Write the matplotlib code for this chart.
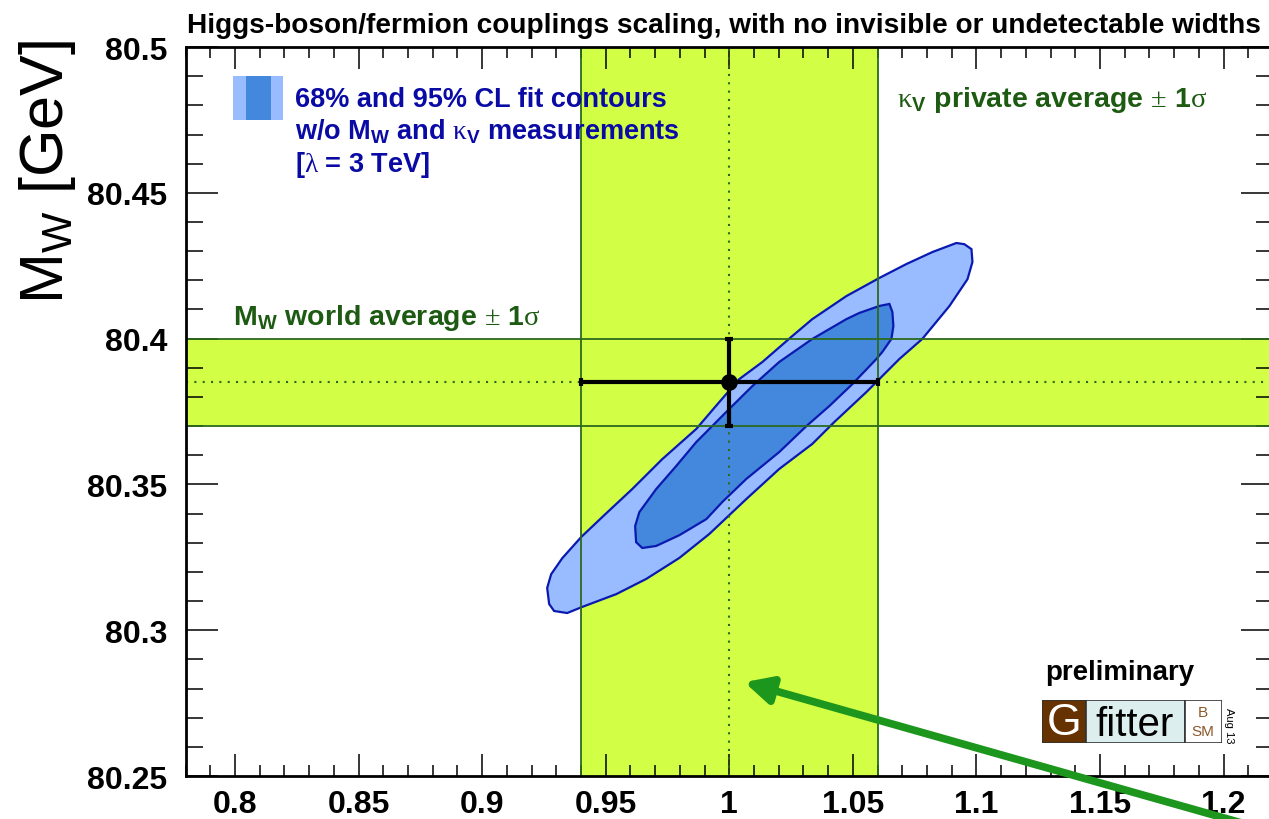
import numpy as np
import matplotlib
matplotlib.use("Agg")
import matplotlib.pyplot as plt
from matplotlib.patches import Rectangle
from matplotlib.ticker import MultipleLocator, FuncFormatter

plt.rcParams['font.family'] = ['Liberation Sans', 'DejaVu Sans']
plt.rcParams['mathtext.fontset'] = 'custom'
plt.rcParams['mathtext.rm'] = 'Liberation Serif'
plt.rcParams['mathtext.bf'] = 'Liberation Sans:bold'
plt.rcParams['mathtext.sf'] = 'Liberation Sans'
plt.rcParams['mathtext.it'] = 'Liberation Sans:italic'

# measurements: kappa_V average and W mass world average
kv_mean, kv_err = 1.0, 0.06
mw_mean, mw_err = 80.385, 0.015

# 95% CL fit contour (kappa_V, M_W)
c95_kv = [1.0919, 1.0822, 1.0717, 1.0607, 1.0474, 1.0336, 1.0255, 1.0134, 1.0040,
          0.9960, 0.9866, 0.9729, 0.9607, 0.9502, 0.9401, 0.9324, 0.9279, 0.9263,
          0.9271, 0.9291, 0.9344, 0.9405, 0.9543, 0.9664, 0.9798, 0.9919, 1.0069,
          1.0202, 1.0336, 1.0425, 1.0555, 1.0688, 1.0781, 1.0891, 1.0964, 1.0984,
          1.0980, 1.0951]
c95_mw = [80.4328, 80.4297, 80.4256, 80.4208, 80.4146, 80.4067, 80.4009, 80.3920, 80.3861,
          80.3783, 80.3690, 80.3587, 80.3484, 80.3401, 80.3320, 80.3247, 80.3192, 80.3145,
          80.3090, 80.3066, 80.3059, 80.3080, 80.3124, 80.3176, 80.3248, 80.3330, 80.3450,
          80.3553, 80.3639, 80.3714, 80.3817, 80.3930, 80.3999, 80.4112, 80.4204, 80.4263,
          80.4307, 80.4324]

# 68% CL fit contour
c68_kv = [1.0648, 1.0607, 1.0526, 1.0474, 1.0336, 1.0202, 1.0093, 1.0000, 0.9866,
          0.9785, 0.9704, 0.9636, 0.9619, 0.9623, 0.9648, 0.9704, 0.9798, 0.9907,
          0.9972, 1.0069, 1.0202, 1.0312, 1.0405, 1.0498, 1.0595, 1.0619, 1.0656,
          1.0664, 1.0660]
c68_mw = [80.4119, 80.4112, 80.4088, 80.4067, 80.3999, 80.3920, 80.3837, 80.3759, 80.3645,
          80.3563, 80.3484, 80.3405, 80.3357, 80.3302, 80.3282, 80.3289, 80.3326, 80.3381,
          80.3440, 80.3519, 80.3611, 80.3700, 80.3769, 80.3844, 80.3930, 80.3954, 80.3999,
          80.4043, 80.4091]

band_col = '#d2ff46'
band_edge = '#2b6a1c'
text_green = '#1d5a12'
light_blue = '#99bbff'
dark_blue = '#4488dd'
line_blue = '#0a1ab0'
legend_blue = '#0a0aa5'

fig = plt.figure(figsize=(12.69, 8.2), dpi=100)
ax = fig.add_axes([0.1463, 0.0524, 0.8568, 0.889])
ax.set_xlim(0.78, 1.22)
ax.set_ylim(80.25, 80.5)

# 1 sigma bands
ax.axvspan(kv_mean - kv_err, kv_mean + kv_err, color=band_col, lw=0, zorder=1)
ax.axhspan(mw_mean - mw_err, mw_mean + mw_err, color=band_col, lw=0, zorder=1)

# fit contours
ax.fill(c95_kv, c95_mw, facecolor=light_blue, edgecolor=line_blue, lw=1.6, zorder=2)
ax.fill(c68_kv, c68_mw, facecolor=dark_blue, edgecolor=line_blue, lw=1.6, zorder=2)

for v in (kv_mean - kv_err, kv_mean + kv_err):
    ax.axvline(v, color=band_edge, lw=1.3, zorder=3)
for v in (mw_mean - mw_err, mw_mean + mw_err):
    ax.axhline(v, color=band_edge, lw=1.3, zorder=3)
ax.axvline(kv_mean, color=band_edge, lw=1.5, ls=(0, (1, 3)), zorder=3)
ax.axhline(mw_mean, color=band_edge, lw=1.5, ls=(0, (1, 3)), zorder=3)

ax.errorbar(kv_mean, mw_mean, xerr=kv_err, yerr=mw_err, fmt='o', color='black',
            ms=11, elinewidth=3, capsize=3, capthick=3, zorder=4)

# axes styling
ax.xaxis.set_major_locator(MultipleLocator(0.05))
ax.xaxis.set_minor_locator(MultipleLocator(0.01))
ax.yaxis.set_major_locator(MultipleLocator(0.05))
ax.yaxis.set_minor_locator(MultipleLocator(0.01))
fmt = FuncFormatter(lambda v, p: '%g' % round(v, 3))
ax.xaxis.set_major_formatter(fmt)
ax.yaxis.set_major_formatter(fmt)
ax.tick_params(which='both', direction='in', top=True, right=True, width=1.1,
               labelsize=23)
ax.tick_params(axis='x', which='major', length=16, pad=9)
ax.tick_params(axis='x', which='minor', length=8)
ax.tick_params(axis='y', which='major', length=23, pad=13)
ax.tick_params(axis='y', which='minor', length=12)
for lab in ax.get_xticklabels() + ax.get_yticklabels():
    lab.set_fontweight('bold')
for s in ax.spines.values():
    s.set_linewidth(2)
    s.set_zorder(5)

# legend
ax.add_patch(Rectangle((0.0435, 0.900), 0.046, 0.0604, transform=ax.transAxes,
                       facecolor=light_blue, lw=0, zorder=5))
ax.add_patch(Rectangle((0.0555, 0.900), 0.023, 0.0604, transform=ax.transAxes,
                       facecolor=dark_blue, lw=0, zorder=5))
leg_kw = dict(transform=ax.transAxes, color=legend_blue, fontsize=19.5,
              fontweight='bold', va='baseline', zorder=6)
ax.text(0.1005, 0.919, '68% and 95% CL fit contours', **leg_kw)
ax.text(0.1005, 0.875, r'w/o M$_\mathbf{W}$ and $\mathrm{κ}_\mathbf{V}$ measurements', **leg_kw)
ax.text(0.1005, 0.830, r'[$\mathrm{λ}$ = 3 TeV]', **leg_kw)

lab_kw = dict(transform=ax.transAxes, color=text_green, fontsize=20.5,
              fontweight='bold', va='baseline', zorder=6)
ax.text(0.0435, 0.620, r'M$_\mathbf{W}$ world average $\mathrm{±}$ 1$\mathrm{σ}$', **lab_kw)
ax.text(0.654, 0.919, r'$\mathrm{κ}_\mathbf{V}$ private average $\mathrm{±}$ 1$\mathrm{σ}$', **lab_kw)

fig.text(0.1474, 0.9598, 'Higgs-boson/fermion couplings scaling, with no invisible or undetectable widths',
         fontsize=20.2, fontweight='bold', va='baseline')
fig.text(47 / 1269, 1 - 40 / 820, r'M$_\mathsf{W}$ [GeV]', fontsize=44, rotation=90,
         ha='center', va='top')

# arrow coming in from the lower right
ax.annotate('', xy=(1.0061, 80.2822), xycoords='data',
            xytext=(1263, -10), textcoords='figure pixels',
            arrowprops=dict(arrowstyle='-|>', lw=5.5, color='#1c961c', mutation_scale=40,
                            shrinkA=0, shrinkB=0),
            annotation_clip=False, zorder=7)

# preliminary / Gfitter logo
fig.text(1045 / 1269, 1 - 680 / 820, 'preliminary', fontsize=20, fontweight='bold',
         va='baseline')
lax = fig.add_axes([1042 / 1269, 1 - 744 / 820, 180 / 1269, 43 / 820])
lax.set_xlim(0, 180)
lax.set_ylim(0, 43)
lax.axis('off')
lax.add_patch(Rectangle((0, 0), 44, 43, facecolor='#663300', edgecolor='#333333', lw=1.2))
lax.add_patch(Rectangle((44, 0), 99, 43, facecolor='#ddeeee', edgecolor='#333333', lw=1.2))
lax.add_patch(Rectangle((143, 0), 37, 43, facecolor='white', edgecolor='#333333', lw=1.2))
lax.text(22, 20, 'G', color='white', fontsize=32, ha='center', va='center')
lax.text(93, 19, 'fitter', color='black', fontsize=29, ha='center', va='center')
lax.text(161, 31, 'B', color='#8b5a2b', fontsize=11, ha='center', va='center')
lax.text(161, 12, 'SM', color='#8b5a2b', fontsize=11, ha='center', va='center')
fig.text(1229 / 1269, 1 - 726 / 820, 'Aug 13', fontsize=8, rotation=-90,
         ha='center', va='center')

fig.savefig('out.png', dpi=100)
